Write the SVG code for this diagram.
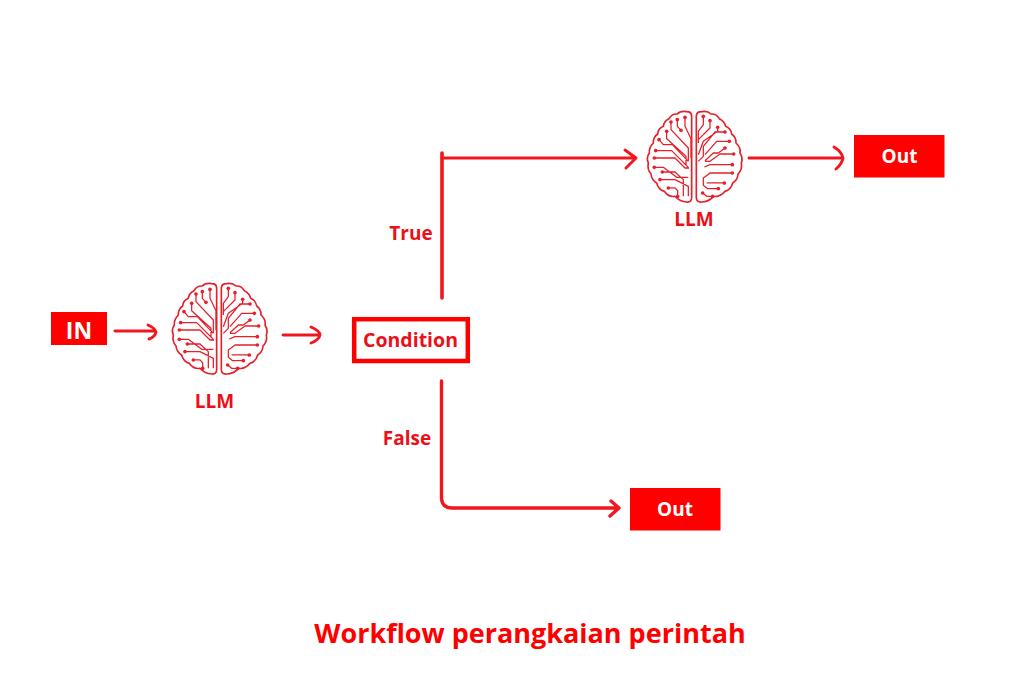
<svg xmlns="http://www.w3.org/2000/svg" xmlns:xlink="http://www.w3.org/1999/xlink" width="1024" height="683" viewBox="0 0 1024 683">
<style>
text{font-family:"Open Sans","Noto Sans","Liberation Sans",sans-serif;font-weight:700;text-anchor:middle}
.red{fill:#fe0000}
.lbl{fill:#ec0f18;font-size:19px}
.w{fill:#fff}
.c{fill:none;stroke:#f2161e;stroke-width:2.900;stroke-linecap:round;stroke-linejoin:round}
.b{fill:none;stroke:#e5202a;stroke-width:5;stroke-linejoin:round;stroke-linecap:round}
.t{fill:none;stroke:#e5202a;stroke-width:3.800;stroke-linejoin:round}
.d{fill:#e5202a}
</style>
<defs>
<g id="brain" transform="scale(.3333)">
<path class="b" d="M170 55Q170 41 155 41Q136 38 127 48Q110 47 102 62Q87 69 85 85Q69 92 68 108Q54 118 55 135Q41 150 43 165Q33 180 40 195Q36 215 48 228Q50 246 65 255Q70 275 88 280Q100 298 120 295Q135 312 155 312Q170 314 170 298Z"/>
<path class="b" d="M184 55Q184 41 200 41Q218 38 228 48Q245 47 253 62Q268 69 272 85Q288 92 290 108Q304 118 303 135Q319 150 315 165Q325 180 319 195Q323 215 309 228Q308 246 293 255Q288 275 270 280Q256 298 236 295Q220 312 200 312Q184 314 184 298Z"/>
<path class="t" d="M150 58V85L168 122V180M127 65V85L138 97M108 72V95L160 150V190M95 100V122L153 175V200M72 125L85 140H112L160 190M62 158H110L160 208M58 180H120L150 210H162M58 208H85L125 238H160M82 222H120L145 245V295M75 245H120L160 265V295M100 270H120L128 278V295"/>
<path class="t" d="M205 55V80L190 100V135M225 68V90L190 125M248 88V100L205 130L190 170M270 102H240L205 145V175L190 190M283 130H245L210 170M270 150L250 165H235L210 188M296 168H255L225 190H210M292 200H225L208 207M292 225H225L205 240V262L218 272H250M268 255H215M203 285L215 295H233"/>
<g class="d"><circle cx="150" cy="58" r="5.500"/><circle cx="127" cy="65" r="5.500"/><circle cx="108" cy="72" r="5.500"/><circle cx="138" cy="97" r="5.500"/><circle cx="95" cy="100" r="5.500"/><circle cx="72" cy="125" r="5.500"/><circle cx="62" cy="158" r="5.500"/><circle cx="58" cy="180" r="5.500"/><circle cx="58" cy="208" r="5.500"/><circle cx="82" cy="222" r="5.500"/><circle cx="75" cy="245" r="5.500"/><circle cx="100" cy="270" r="5.500"/><circle cx="128" cy="295" r="5.500"/><circle cx="205" cy="55" r="5.500"/><circle cx="225" cy="68" r="5.500"/><circle cx="248" cy="88" r="5.500"/><circle cx="270" cy="102" r="5.500"/><circle cx="283" cy="130" r="5.500"/><circle cx="270" cy="150" r="5.500"/><circle cx="296" cy="168" r="5.500"/><circle cx="292" cy="200" r="5.500"/><circle cx="292" cy="225" r="5.500"/><circle cx="268" cy="255" r="5.500"/><circle cx="250" cy="272" r="5.500"/><circle cx="203" cy="285" r="5.500"/><circle cx="233" cy="295" r="5.500"/></g>
</g>
</defs>
<rect width="1024" height="683" fill="#fff"/>
<g id="connectors">
<path class="c" d="M115 331H155M148 325Q155 328 156 332Q155 337 149 339"/>
<path class="c" d="M283 335H318M311 327Q320 331 320 335Q319 340 311 343"/>
<path class="c" style="stroke-width:3.600" d="M442 298V153"/>
<path class="c" d="M442 158H634M625 150L636 158L626 168"/>
<path class="c" style="stroke-width:3.400" d="M441.500 381V498Q442 508 452 508H617M611 501L619 508L610 516"/>
<path class="c" d="M749 158H841M834 147Q842 152 843 158Q842 164 836 169"/>
</g>
<g id="in"><rect class="red" x="51" y="312" width="56" height="33"/><text class="w" x="79" y="339" font-size="23">IN</text></g>
<g id="llm1"><use xlink:href="#brain" href="#brain" x="160" y="270"/><text class="lbl" x="214.500" y="408">LLM</text></g>
<g id="condition"><rect x="354.200" y="319.200" width="113.600" height="41.800" fill="#fff" stroke="#fe0000" stroke-width="4.500"/><text x="410.500" y="347" font-size="19.500" fill="#ec0f18">Condition</text></g>
<g id="llm2"><use xlink:href="#brain" href="#brain" x="635" y="98"/><text class="lbl" x="694" y="226">LLM</text></g>
<g id="out1"><rect class="red" x="854" y="135" width="90.500" height="42.500"/><text class="w" x="899.500" y="163" font-size="19">Out</text></g>
<g id="out2"><rect class="red" x="630" y="488" width="90.500" height="42.500"/><text class="w" x="675" y="516" font-size="19">Out</text></g>
<text class="lbl" x="411" y="240">True</text>
<text class="lbl" x="407" y="445">False</text>
<text id="title" x="530" y="643" font-size="27" fill="#fe0000">Workflow perangkaian perintah</text>
</svg>
